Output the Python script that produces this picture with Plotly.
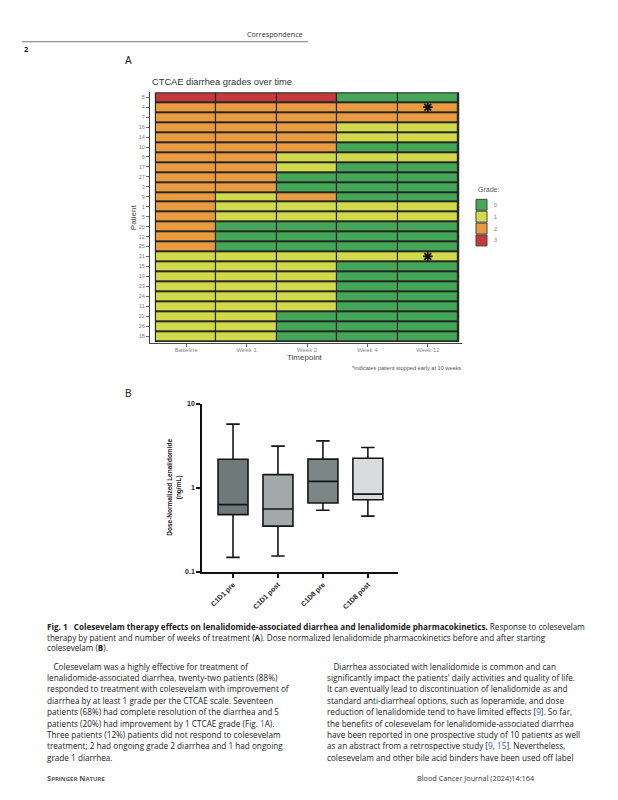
import plotly.graph_objects as go

# page is 618x800; the html body adds an 8px margin, so the figure is sized to fit
W, H = 618, 800
OFF = 8
FW, FH = W - OFF, H - OFF

# ---------------- Data: panel A (CTCAE grades) ----------------
timepoints = ["Baseline", "Week 1", "Week 2", "Week 4", "Week 12"]
patients = [8, 4, 7, 16, 14, 10, 6, 17, 27, 3, 9, 1, 5, 20, 12, 25, 21, 15, 19, 23, 24, 11, 22, 26, 18]
grade_baseline = [3, 2, 2, 2, 2, 2, 2, 2, 2, 2, 2, 2, 2, 2, 2, 2, 1, 1, 1, 1, 1, 1, 1, 1, 1]
grade_week1    = [3, 2, 2, 2, 2, 2, 2, 2, 2, 2, 1, 1, 1, 0, 0, 0, 1, 1, 1, 1, 1, 1, 1, 1, 1]
grade_week2    = [3, 2, 2, 2, 2, 2, 1, 1, 0, 0, 2, 1, 1, 0, 0, 0, 1, 1, 1, 1, 1, 1, 0, 0, 0]
grade_week4    = [0, 2, 2, 1, 1, 0, 1, 0, 0, 0, 0, 1, 1, 0, 0, 0, 1, 0, 0, 0, 0, 0, 0, 0, 0]
grade_week12   = [0, 2, 2, 1, 1, 0, 1, 0, 0, 0, 0, 1, 1, 0, 0, 0, 1, 0, 0, 0, 0, 0, 0, 0, 0]
stopped_early = [4, 21]
grade_labels = ["0", "1", "2", "3"]
grade_colors = ["#43a757", "#d2da4b", "#ea9b3f", "#c3393d"]

# ---------------- Data: panel B (box stats) ----------------
pk_groups = ["C1D1 pre", "C1D1 post", "C1D8 pre", "C1D8 post"]
pk_min    = [0.149, 0.155, 0.54, 0.46]
pk_q1     = [0.48, 0.35, 0.66, 0.72]
pk_median = [0.63, 0.56, 1.19, 0.84]
pk_q3     = [2.18, 1.43, 2.19, 2.24]
pk_max    = [5.7, 3.12, 3.6, 3.0]
pk_fill   = ["#6f7979", "#a3a9a9", "#7d8686", "#d8dcdc"]


def px_x(v):
    return (v - OFF) / FW


def px_y(v):
    return 1 - (v - OFF) / FH


fig = go.Figure()

# ---------------- Heatmap ----------------
rows = list(range(len(patients)))
z = [[grade_baseline[i], grade_week1[i], grade_week2[i], grade_week4[i], grade_week12[i]] for i in rows]
cs = []
n = len(grade_colors)
for k, c in enumerate(grade_colors):
    cs.append([k / n, c])
    cs.append([(k + 1) / n, c])

fig.add_trace(go.Heatmap(
    z=z, x=list(range(len(timepoints))), y=rows,
    colorscale=cs, zmin=-0.5, zmax=3.5, showscale=False,
    xgap=1.2, ygap=2, hoverinfo="skip", xaxis="x", yaxis="y",
))

star_rows = [patients.index(p) for p in stopped_early]
fig.add_trace(go.Scatter(
    x=[len(timepoints) - 1] * len(star_rows), y=star_rows, mode="markers",
    marker=dict(symbol="asterisk-open", size=8, color="#111", line=dict(color="#111", width=1.8)),
    hoverinfo="skip", showlegend=False, xaxis="x", yaxis="y",
))

# dark backing behind heatmap to form cell borders
fig.add_shape(type="rect", xref="x", yref="y", x0=-0.52, x1=4.52, y0=-0.6, y1=24.6,
              fillcolor="#262626", line=dict(width=0), layer="below")

# ---------------- Box plots ----------------
for i, g in enumerate(pk_groups):
    fig.add_trace(go.Box(
        x=[i], q1=[pk_q1[i]], median=[pk_median[i]], q3=[pk_q3[i]],
        lowerfence=[pk_min[i]], upperfence=[pk_max[i]],
        fillcolor=pk_fill[i], line=dict(color="#161616", width=1.6),
        width=0.667, whiskerwidth=0.45, boxpoints=False,
        hoverinfo="skip", showlegend=False, xaxis="x2", yaxis="y2",
    ))

fig.update_layout(
    width=FW, height=FH, margin=dict(l=0, r=0, t=0, b=0),
    paper_bgcolor="white", plot_bgcolor="white", showlegend=False,
    font=dict(family="Liberation Sans, Arial, sans-serif", color="#333"),
    xaxis=dict(domain=[px_x(150), px_x(462)], range=[-0.6, 4.566],
               tickvals=list(range(len(timepoints))), ticktext=timepoints,
               showgrid=False, zeroline=False, showline=True, linecolor="#444", linewidth=1,
               ticks="outside", ticklen=3, tickcolor="#666", tickwidth=0.8,
               ticklabelstandoff=-2,
               tickfont=dict(size=6, color="#8a8a8a"), fixedrange=True),
    yaxis=dict(domain=[px_y(342), px_y(89)], range=[24.7, -0.5],
               tickvals=rows, ticktext=[str(p) for p in patients],
               showgrid=False, zeroline=False, showline=True, linecolor="#444", linewidth=1,
               ticks="outside", ticklen=3, tickcolor="#666", tickwidth=0.8,
               tickfont=dict(size=5.6, color="#808080"), fixedrange=True),
    xaxis2=dict(domain=[px_x(202), px_x(398)], range=[-0.69, 3.67], anchor="y2",
                tickvals=list(range(len(pk_groups))), ticktext=["<b>" + g + "</b>" for g in pk_groups],
                tickangle=-45, showgrid=False, zeroline=False, showline=True,
                linecolor="#111", linewidth=1.6, ticks="outside", ticklen=4,
                tickcolor="#111", tickwidth=1.6, tickfont=dict(size=7, color="#222"),
                fixedrange=True),
    yaxis2=dict(domain=[px_y(573), px_y(403)], type="log", range=[-1, 1], anchor="x2",
                tickvals=[0.1, 1, 10], ticktext=["<b>0.1</b>", "<b>1</b>", "<b>10</b>"],
                showgrid=False, zeroline=False, showline=True, linecolor="#111", linewidth=1.6,
                ticks="outside", ticklen=4, tickcolor="#111", tickwidth=1.6,
                tickfont=dict(size=7, color="#222"), fixedrange=True),
)

# legend for grades (discrete swatches)
fig.add_annotation(x=px_x(476), y=px_y(187), xref="paper", yref="paper", text="Grade:",
                   showarrow=False, xanchor="left", yanchor="middle",
                   font=dict(size=7, color="#555"))
for k, (lab, c) in enumerate(zip(grade_labels, grade_colors)):
    y0 = 197 + k * 12
    fig.add_shape(type="rect", xref="paper", yref="paper", x0=px_x(476), x1=px_x(487),
                  y0=px_y(y0), y1=px_y(y0 + 11), fillcolor=c, line=dict(color="#444", width=1))
    fig.add_annotation(x=px_x(492), y=px_y(y0 + 5.5), xref="paper", yref="paper", text=lab,
                       showarrow=False, xanchor="left", yanchor="middle",
                       font=dict(size=5.5, color="#777"))


def txt(x, y, s, size=7, color="#222", anchor="left", family=None, angle=0, yanchor="middle"):
    f = dict(size=size, color=color)
    if family:
        f["family"] = family
    fig.add_annotation(x=px_x(x), y=px_y(y), xref="paper", yref="paper", text=s, showarrow=False,
                       xanchor=anchor, yanchor=yanchor, textangle=angle, font=f)


# Heatmap titles
txt(150, 79, "CTCAE diarrhea grades over time", size=9.3, color="#333")
txt(305, 357, "Timepoint", size=8, color="#444", anchor="center")
txt(463, 367, "*indicates patient stopped early at 10 weeks", size=5.6, color="#555", anchor="right")
txt(133, 215, "Patient", size=8, color="#444", anchor="center", angle=-90)

# Box plot y title
txt(174, 488, "<b>Dose-Normalized Lenalidomide<br>(ng/mL)</b>", size=6.5, color="#222",
    anchor="center", angle=-90)

# Panel labels
txt(123, 57, "A", size=10, color="#222")
txt(123, 393, "B", size=10, color="#222")

# Page header
body_font = "Open Sans, Noto Sans, Liberation Sans, sans-serif"
txt(305, 30, "Correspondence", size=7.2, color="#333", anchor="right", family=body_font)
fig.add_shape(type="line", xref="paper", yref="paper", x0=px_x(22), x1=px_x(308),
              y0=px_y(38), y1=px_y(38), line=dict(color="#777", width=1))
txt(22, 45, "<b>2</b>", size=7.5, color="#222", family=body_font)

# Caption
BL = "<span style='color:#2a5db0'>"
EB = "</span>"
cap = [
    "<b>Fig. 1   Colesevelam therapy effects on lenalidomide-associated diarrhea and lenalidomide pharmacokinetics.</b> Response to colesevelam",
    "therapy by patient and number of weeks of treatment (<b>A</b>). Dose normalized lenalidomide pharmacokinetics before and after starting",
    "colesevelam (<b>B</b>).",
]
for i, s in enumerate(cap):
    txt(45, 628 + i * 10.8, s, size=8.1, color="#222", family=body_font)

left_col = [
    "   Colesevelam was a highly effective for treatment of",
    "lenalidomide-associated diarrhea, twenty-two patients (88%)",
    "responded to treatment with colesevelam with improvement of",
    "diarrhea by at least 1 grade per the CTCAE scale. Seventeen",
    "patients (68%) had complete resolution of the diarrhea and 5",
    "patients (20%) had improvement by 1 CTCAE grade (Fig. " + BL + "1" + EB + "A).",
    "Three patients (12%) patients did not respond to colesevelam",
    "treatment; 2 had ongoing grade 2 diarrhea and 1 had ongoing",
    "grade 1 diarrhea.",
]
right_col = [
    "   Diarrhea associated with lenalidomide is common and can",
    "significantly impact the patients' daily activities and quality of life.",
    "It can eventually lead to discontinuation of lenalidomide as and",
    "standard anti-diarrheal options, such as loperamide, and dose",
    "reduction of lenalidomide tend to have limited effects [" + BL + "9" + EB + "]. So far,",
    "the benefits of colesevelam for lenalidomide-associated diarrhea",
    "have been reported in one prospective study of 10 patients as well",
    "as an abstract from a retrospective study [" + BL + "9" + EB + ", " + BL + "15" + EB + "]. Nevertheless,",
    "colesevelam and other bile acid binders have been used off label",
]
for i, s in enumerate(left_col):
    txt(45, 668 + i * 11.5, s, size=8.2, color="#222", family=body_font)
for i, s in enumerate(right_col):
    txt(325, 668 + i * 11.5, s, size=8.2, color="#222", family=body_font)

# Footer
txt(45, 781, "<b>S<span style='font-size:6px'>PRINGER</span> N<span style='font-size:6px'>ATURE</span></b>",
    size=7.5, color="#555", family=body_font)
txt(415, 781, "Blood Cancer Journal (2024)14:164", size=7.3, color="#333", family=body_font)

fig.write_html("out.html")
